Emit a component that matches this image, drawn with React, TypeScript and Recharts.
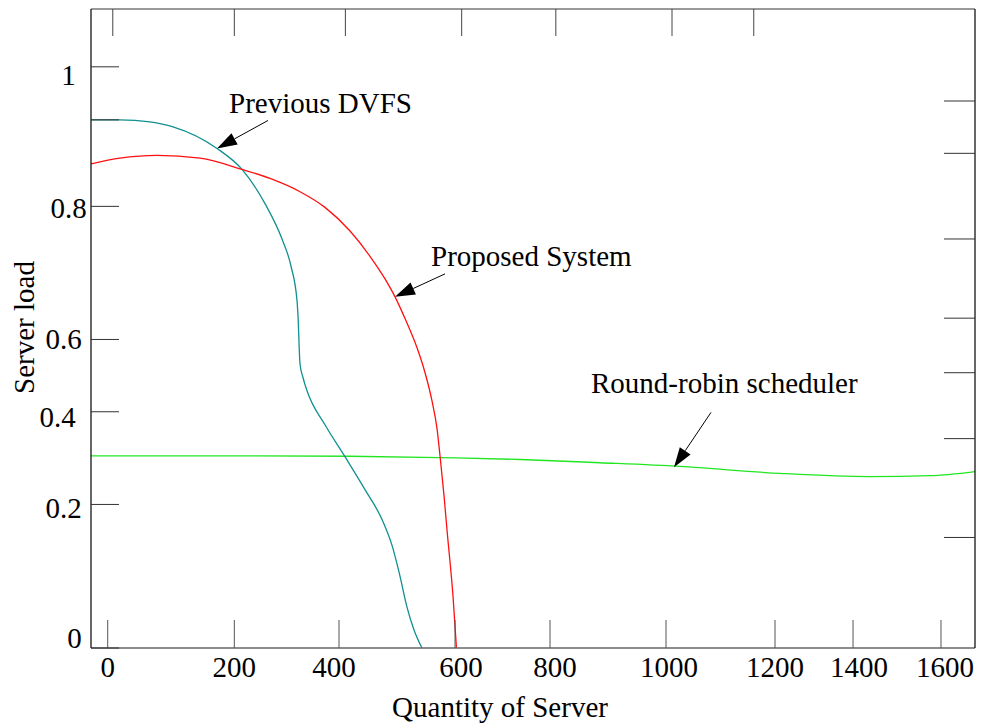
import React from 'react';
import { LineChart, Line, XAxis, YAxis, ReferenceDot, Label } from 'recharts';

const FONT = "'Liberation Serif', 'Times New Roman', 'DejaVu Serif', serif";

// Tick labels and where each labelled tick sits on the (linear) axis.
const X_LABELS = [0, 200, 400, 600, 800, 1000, 1200, 1400, 1600];
const X_TICK_AXIS = [0, 243.1, 444.1, 666.9, 849.3, 1072.0, 1281.3, 1431.1, 1600];
const Y_LABELS = [0, 0.2, 0.4, 0.6, 0.8, 1];
const Y_TICK_AXIS = [0, 0.247, 0.4065, 0.5309, 0.7599, 1];
const X_DOMAIN: [number, number] = [-32.1, 1665.3];
const Y_DOMAIN: [number, number] = [0, 1.0995];

// Unlabelled decorative ticks (in label units)
const LEFT_EXTRA_TICKS = [0.924];
const TOP_TICKS = [8, 200, 411, 614, 810, 1011, 1161];
const RIGHT_TICKS = [0.951, 0.876, 0.751, 0.632, 0.508, 0.342, 0.154];

// Series (label units)
const dvfsX = [-26.4, 19.4, 66.8, 103.2, 172.7, 214.7, 258.6, 291.1, 308.3, 319.8, 321.7, 325.5, 331.3, 338.9, 373.2, 410.3, 444.8, 475.9, 491.4, 503.4, 517.2, 529.3, 543];
const dvfsY = [0.924, 0.924, 0.921, 0.914, 0.883, 0.853, 0.804, 0.751, 0.71, 0.658, 0.635, 0.532, 0.494, 0.458, 0.372, 0.303, 0.232, 0.176, 0.143, 0.106, 0.057, 0.025, 0];
const propX = [-26.4, 19.4, 77.9, 145.8, 214.7, 268.2, 325.5, 373.2, 419, 453.4, 479.3, 496.6, 515.5, 534.5, 548.3, 560.3, 569, 574.1, 581, 586.2, 596.6, 603];
const propY = [0.861, 0.869, 0.873, 0.869, 0.853, 0.84, 0.821, 0.7985, 0.763, 0.725, 0.691, 0.664, 0.628, 0.577, 0.508, 0.43, 0.363, 0.305, 0.219, 0.164, 0.071, 0];
const rrX = [-26.4, 230, 419, 574, 737, 886, 1026, 1213, 1439, 1575, 1677];
const rrY = [0.305, 0.305, 0.304, 0.301, 0.297, 0.29, 0.282, 0.267, 0.26, 0.262, 0.271];

// Label nudges (px) for tick labels
const X_LABEL_NUDGE = [0, 0, -5, 6, 5, 3, 0, 6, 4];
const Y_LABEL_NUDGE = [[6.5, -10], [-4.5, 4], [-10.5, 5], [-4.5, 0], [0.5, 2], [0.5, 8]];

function warp(v: number, labels: number[], pos: number[]) {
  const n = labels.length;
  let i = 0;
  if (v <= labels[0]) i = 0;
  else if (v >= labels[n - 1]) i = n - 2;
  else {
    while (v > labels[i + 1]) i++;
  }
  const t = (v - labels[i]) / (labels[i + 1] - labels[i]);
  return pos[i] + t * (pos[i + 1] - pos[i]);
}
const wx = (v: number) => warp(v, X_LABELS, X_TICK_AXIS);
const wy = (v: number) => warp(v, Y_LABELS, Y_TICK_AXIS);

const build = (xs: number[], ys: number[]) => xs.map((x, i) => ({ x: wx(x), y: wy(ys[i]) }));
const dvfsData = build(dvfsX, dvfsY);
const propData = build(propX, propY);
const rrData = build(rrX, rrY);

const nearestIndex = (arr: number[], v: number) => {
  let best = -1;
  let bd = 1e-3;
  arr.forEach((a, i) => {
    const d = Math.abs(a - v);
    if (d < bd) { bd = d; best = i; }
  });
  return best;
};

const EmptyTick = () => <g />;

const XTick = (p: any) => {
  const i = nearestIndex(X_TICK_AXIS, p.payload.value);
  if (i < 0) return <g />;
  return (
    <text x={p.x + X_LABEL_NUDGE[i]} y={p.y} textAnchor="middle" dominantBaseline="central" fontSize={29} fontFamily={FONT} fill="#000">
      {String(X_LABELS[i])}
    </text>
  );
};

const YTick = (p: any) => {
  const i = nearestIndex(Y_TICK_AXIS, p.payload.value);
  if (i < 0) return <g />;
  const [dx, dy] = Y_LABEL_NUDGE[i];
  return (
    <text x={p.x + dx} y={p.y + dy} textAnchor="middle" dominantBaseline="central" fontSize={29} fontFamily={FONT} fill="#000">
      {String(Y_LABELS[i])}
    </text>
  );
};

const annotation = (text: string, tail: [number, number], textAt: [number, number]) => (p: any) => {
  const cx = p.cx, cy = p.cy;
  if (cx == null || cy == null) return <g />;
  const tx = cx + tail[0], ty = cy + tail[1];
  const ang = Math.atan2(cy - ty, cx - tx);
  const L = 20, W = 6.5;
  const bx = cx - L * Math.cos(ang), by = cy - L * Math.sin(ang);
  const px = -Math.sin(ang) * W, py = Math.cos(ang) * W;
  return (
    <g>
      <line x1={tx} y1={ty} x2={bx} y2={by} stroke="#000" strokeWidth={1} />
      <polygon points={`${cx},${cy} ${bx + px},${by + py} ${bx - px},${by - py}`} fill="#000" />
      <text x={cx + textAt[0]} y={cy + textAt[1]} fontSize={29} fontFamily={FONT} fill="#000">{text}</text>
    </g>
  );
};

export default function App() {
  return (
    <div style={{ position: 'absolute', left: 0, top: 0, background: '#fff' }}>
      <LineChart width={982} height={727} margin={{ top: 0, right: 0, bottom: 0, left: 0 }}>
        <XAxis
          xAxisId="b" type="number" dataKey="x" domain={X_DOMAIN} allowDataOverflow
          ticks={X_TICK_AXIS} interval={0} height={79} tickSize={-28} tickMargin={47}
          axisLine={{ stroke: '#666', strokeWidth: 1.3 }} tickLine={{ stroke: '#555' }} tick={XTick}
        >
          <Label
            content={(p: any) => {
              const vb = p.viewBox || { x: 91, y: 648, width: 884, height: 79 };
              return (
                <text x={vb.x + vb.width / 2 - 33} y={vb.y + 59} textAnchor="middle" dominantBaseline="central" fontSize={29} fontFamily={FONT} fill="#000">
                  Quantity of Server
                </text>
              );
            }}
          />
        </XAxis>
        <XAxis
          xAxisId="t" orientation="top" type="number" dataKey="x" domain={X_DOMAIN} allowDataOverflow
          ticks={TOP_TICKS.map(wx)} interval={0} height={9} tickSize={-27} tick={EmptyTick}
          axisLine={{ stroke: '#777', strokeWidth: 1.3 }} tickLine={{ stroke: '#444' }}
        />
        <YAxis
          yAxisId="l" type="number" dataKey="y" domain={Y_DOMAIN} allowDataOverflow
          ticks={[...Y_TICK_AXIS, ...LEFT_EXTRA_TICKS.map(wy)]} interval={0} width={91} tickSize={-28} tickMargin={51}
          axisLine={{ stroke: '#000', strokeWidth: 1.2 }} tickLine={{ stroke: '#333' }} tick={YTick}
        >
          <Label
            content={(p: any) => {
              const vb = p.viewBox || { x: 0, y: 9, width: 91, height: 639 };
              const x = vb.x + 24;
              const y = vb.y + vb.height / 2 - 1;
              return (
                <text x={x} y={y} transform={`rotate(-90 ${x} ${y})`} textAnchor="middle" dominantBaseline="central" fontSize={29} fontFamily={FONT} fill="#000">
                  Server load
                </text>
              );
            }}
          />
        </YAxis>
        <YAxis
          yAxisId="r" orientation="right" type="number" dataKey="y" domain={Y_DOMAIN} allowDataOverflow
          ticks={RIGHT_TICKS.map(wy)} interval={0} width={7} tickSize={-31} tick={EmptyTick}
          axisLine={{ stroke: '#000', strokeWidth: 1.2 }} tickLine={{ stroke: '#333' }}
        />
        {/* invisible carrier series so the decorative top/right axes get their ticks */}
        <Line xAxisId="t" yAxisId="r" data={rrData} dataKey="y" stroke="none" strokeOpacity={0} dot={false} activeDot={false} isAnimationActive={false} />
        <Line xAxisId="b" yAxisId="l" data={rrData} dataKey="y" type="monotone" stroke="#22e622" strokeWidth={1.3} dot={false} isAnimationActive={false} />
        <Line xAxisId="b" yAxisId="l" data={dvfsData} dataKey="y" type="monotone" stroke="#109090" strokeWidth={1.3} dot={false} isAnimationActive={false} />
        <Line xAxisId="b" yAxisId="l" data={propData} dataKey="y" type="monotone" stroke="#ff1010" strokeWidth={1.3} dot={false} isAnimationActive={false} />
        <ReferenceDot xAxisId="b" yAxisId="l" x={wx(172.7)} y={wy(0.883)} r={1} shape={annotation('Previous DVFS', [51, -28], [12, -35])} />
        <ReferenceDot xAxisId="b" yAxisId="l" x={wx(496.6)} y={wy(0.664)} r={1} shape={annotation('Proposed System', [50, -23], [36, -31])} />
        <ReferenceDot xAxisId="b" yAxisId="l" x={wx(1014.7)} y={wy(0.28)} r={1} shape={annotation('Round-robin scheduler', [37, -55], [-83, -74])} />
      </LineChart>
    </div>
  );
}
